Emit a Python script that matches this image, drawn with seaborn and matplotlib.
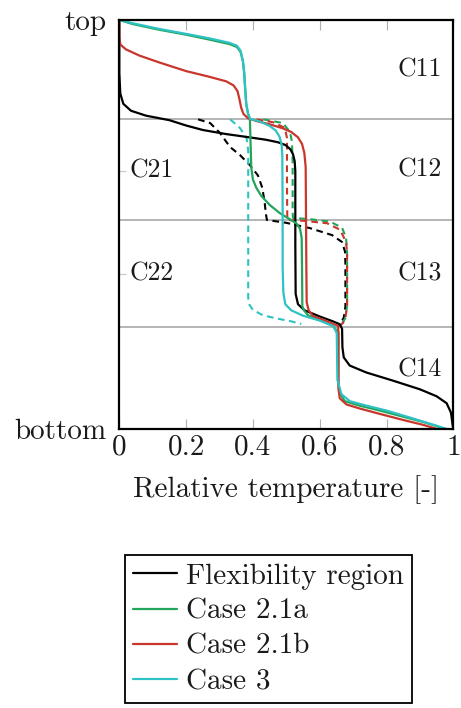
import matplotlib
matplotlib.use("Agg")
import matplotlib.pyplot as plt
import seaborn as sns

# ---------------- data ----------------
region_bounds = [0.757, 0.511, 0.25]
right_labels = ["C11", "C12", "C13", "C14"]
right_label_y = [0.878, 0.633, 0.381, 0.144]
left_labels = ["C21", "C22"]
left_label_y = [0.631, 0.379]
xtick_vals = [0, 0.2, 0.4, 0.6, 0.8, 1]
xtick_labels = ["0", "0.2", "0.4", "0.6", "0.8", "1"]
ytick_vals = [0, 1]
ytick_labels = ["bottom", "top"]

flex_x = [0, 0, 0.003, 0.012, 0.035, 0.08, 0.15, 0.2, 0.25, 0.32, 0.39, 0.44, 0.475, 0.498, 0.512,
          0.52, 0.525, 0.527, 0.527, 0.528, 0.535, 0.555, 0.6, 0.64, 0.66, 0.667, 0.668,
          0.672, 0.69, 0.74, 0.82, 0.9, 0.95, 0.98, 0.993, 0.998, 1.0]
flex_y = [1, 0.87, 0.82, 0.795, 0.778, 0.766, 0.755, 0.742, 0.731, 0.721, 0.713, 0.707, 0.701, 0.694, 0.684,
          0.672, 0.655, 0.63, 0.45, 0.33, 0.305, 0.29, 0.275, 0.263, 0.256, 0.245, 0.20,
          0.175, 0.155, 0.138, 0.118, 0.097, 0.080, 0.063, 0.04, 0.01, 0.0]

c21a_x = [0, 0.04, 0.12, 0.2, 0.27, 0.33, 0.352, 0.363, 0.37, 0.374, 0.377, 0.38, 0.385, 0.391, 0.393,
          0.395, 0.40, 0.41, 0.425, 0.45, 0.48, 0.51, 0.53, 0.541, 0.546, 0.547, 0.548, 0.553,
          0.565, 0.6, 0.64, 0.656, 0.656, 0.66, 0.675, 0.72, 0.78, 0.85, 0.91, 0.95, 0.968]
c21a_y = [1, 0.99, 0.976, 0.964, 0.952, 0.941, 0.934, 0.922, 0.90, 0.87, 0.83, 0.795, 0.772, 0.757, 0.70,
          0.64, 0.61, 0.59, 0.57, 0.548, 0.528, 0.513, 0.503, 0.49, 0.467, 0.40, 0.30, 0.29,
          0.278, 0.266, 0.252, 0.235, 0.11, 0.088, 0.068, 0.057, 0.045, 0.03, 0.017, 0.007, 0.0]

c21b_x = [0, 0, 0.003, 0.02, 0.06, 0.12, 0.2, 0.27, 0.32, 0.342, 0.354, 0.36, 0.365, 0.372, 0.385, 0.41,
          0.45, 0.49, 0.515, 0.535, 0.547, 0.554, 0.558, 0.56, 0.561, 0.567, 0.58, 0.62, 0.655,
          0.656, 0.656, 0.66, 0.68, 0.72, 0.77, 0.85, 0.91, 0.951]
c21b_y = [1, 0.96, 0.94, 0.928, 0.913, 0.896, 0.875, 0.861, 0.85, 0.84, 0.826, 0.805, 0.785, 0.77, 0.76, 0.753,
          0.745, 0.735, 0.726, 0.713, 0.697, 0.675, 0.64, 0.40, 0.31, 0.29, 0.276, 0.264, 0.252,
          0.235, 0.10, 0.075, 0.06, 0.05, 0.039, 0.022, 0.01, 0.0]

c3_x = [0, 0.04, 0.12, 0.2, 0.27, 0.33, 0.352, 0.363, 0.37, 0.374, 0.377, 0.38, 0.385, 0.392, 0.42, 0.45,
        0.468, 0.48, 0.486, 0.488, 0.489, 0.489, 0.491, 0.497, 0.515, 0.55, 0.6, 0.64, 0.651, 0.653,
        0.665, 0.69, 0.74, 0.8, 0.87, 0.93, 0.965, 0.981]
c3_y = [1, 0.992, 0.978, 0.966, 0.955, 0.944, 0.937, 0.925, 0.90, 0.87, 0.83, 0.795, 0.772, 0.758, 0.752, 0.741,
        0.73, 0.714, 0.695, 0.67, 0.55, 0.40, 0.335, 0.305, 0.29, 0.277, 0.265, 0.252, 0.235, 0.12,
        0.085, 0.068, 0.057, 0.045, 0.028, 0.013, 0.004, 0.0]

flex_d_x = [0.236, 0.272, 0.301, 0.332, 0.361, 0.391, 0.415, 0.428, 0.435, 0.439, 0.442, 0.5, 0.571,
            0.637, 0.667, 0.676, 0.677, 0.677, 0.672, 0.662, 0.655]
flex_d_y = [0.757, 0.748, 0.724, 0.689, 0.67, 0.645, 0.62, 0.59, 0.555, 0.525, 0.511, 0.504, 0.491,
            0.474, 0.457, 0.433, 0.40, 0.30, 0.272, 0.258, 0.252]

c21a_d_x = [0.431, 0.49, 0.511, 0.517, 0.519, 0.519, 0.52, 0.571, 0.631, 0.667, 0.679, 0.682, 0.682,
            0.676, 0.668, 0.658]
c21a_d_y = [0.757, 0.748, 0.726, 0.702, 0.65, 0.53, 0.516, 0.513, 0.507, 0.492, 0.467, 0.43, 0.30,
            0.27, 0.259, 0.252]

c21b_d_x = [0.411, 0.46, 0.496, 0.502, 0.502, 0.503, 0.55, 0.622, 0.661, 0.679, 0.682, 0.682, 0.677,
            0.67, 0.66]
c21b_d_y = [0.757, 0.75, 0.736, 0.711, 0.60, 0.511, 0.509, 0.503, 0.487, 0.457, 0.43, 0.30, 0.272,
            0.26, 0.251]

c3_d_x = [0.332, 0.361, 0.381, 0.386, 0.386, 0.386, 0.39, 0.40, 0.43, 0.472, 0.51, 0.545]
c3_d_y = [0.757, 0.736, 0.711, 0.68, 0.50, 0.32, 0.303, 0.291, 0.278, 0.27, 0.264, 0.257]

series_names = ["Flexibility region", "Case 2.1a", "Case 2.1b", "Case 3"]
series_colors = ["#000000", "#22a45a", "#c8362c", "#2ec2c4"]

# ---------------- figure ----------------
sns.set_theme(style="white")
plt.rcParams["font.family"] = ["cmr10", "DejaVu Serif"]
plt.rcParams["mathtext.fontset"] = "cm"
plt.rcParams["axes.formatter.use_mathtext"] = True
plt.rcParams["axes.unicode_minus"] = False

FS = 21
FS_REG = 18.5
TXT = "#1a1a1a"
fig = plt.figure(figsize=(4.61, 7.08), dpi=100)
ax = fig.add_axes([0.2588, 0.3941, 0.7245, 0.5777])

for yb in region_bounds:
    ax.axhline(yb, color="#a8a8a8", lw=1.2, zorder=1)

solid = [(flex_x, flex_y), (c21a_x, c21a_y), (c21b_x, c21b_y), (c3_x, c3_y)]
dashed = [(flex_d_x, flex_d_y), (c21a_d_x, c21a_d_y), (c21b_d_x, c21b_d_y), (c3_d_x, c3_d_y)]

handles = []
for (xs, ys), name, col in zip(dashed, series_names, series_colors):
    sns.lineplot(x=xs, y=ys, sort=False, estimator=None, color=col, lw=1.5,
                 linestyle=(0, (3.2, 2.2)), ax=ax, zorder=3)
for (xs, ys), name, col in zip(solid, series_names, series_colors):
    sns.lineplot(x=xs, y=ys, sort=False, estimator=None, color=col, lw=1.6,
                 ax=ax, zorder=4)
    handles.append(ax.lines[-1])

if ax.get_legend() is not None:
    ax.get_legend().remove()

ax.set_xlim(0, 1)
ax.set_ylim(0, 1)
ax.set_xticks(xtick_vals)
ax.set_xticklabels(xtick_labels, fontsize=FS, color=TXT)
ax.set_yticks(ytick_vals)
ax.set_yticklabels(ytick_labels, fontsize=FS, color=TXT)
ax.tick_params(axis="y", which="major", length=0, pad=9)
ax.tick_params(axis="x", which="major", direction="in", length=7, width=0.8,
               color="#b0b0b0", top=True, bottom=True, pad=4)
ax.set_yticks(left_label_y, minor=True)
ax.tick_params(axis="y", which="minor", direction="in", length=5, width=0.8,
               color="#c8c8c8", left=True)
ax.set_xlabel("Relative temperature [-]", fontsize=FS, labelpad=10, color=TXT)
ax.set_ylabel("")

for s in ax.spines.values():
    s.set_color("black")
    s.set_linewidth(1.6)
    s.set_visible(True)
    s.set_zorder(6)

for lab, yy in zip(right_labels, right_label_y):
    ax.text(0.965, yy, lab, ha="right", va="center", fontsize=FS_REG, color=TXT, zorder=5)
for lab, yy in zip(left_labels, left_label_y):
    ax.text(0.030, yy, lab, ha="left", va="center", fontsize=FS_REG, color=TXT, zorder=5)

leg = fig.legend(handles, series_names, loc="upper left",
                 bbox_to_anchor=(125 / 461, 1 - 555 / 708), bbox_transform=fig.transFigure,
                 fontsize=FS, frameon=True, fancybox=False, framealpha=1,
                 edgecolor="black", handlelength=1.5, handletextpad=0.3,
                 labelspacing=0.3, borderpad=0.28, borderaxespad=0)
leg.get_frame().set_linewidth(1.3)
for lh in leg.get_lines():
    lh.set_linewidth(1.6)
for t in leg.get_texts():
    t.set_color(TXT)

fig.savefig("out.png", dpi=100)
